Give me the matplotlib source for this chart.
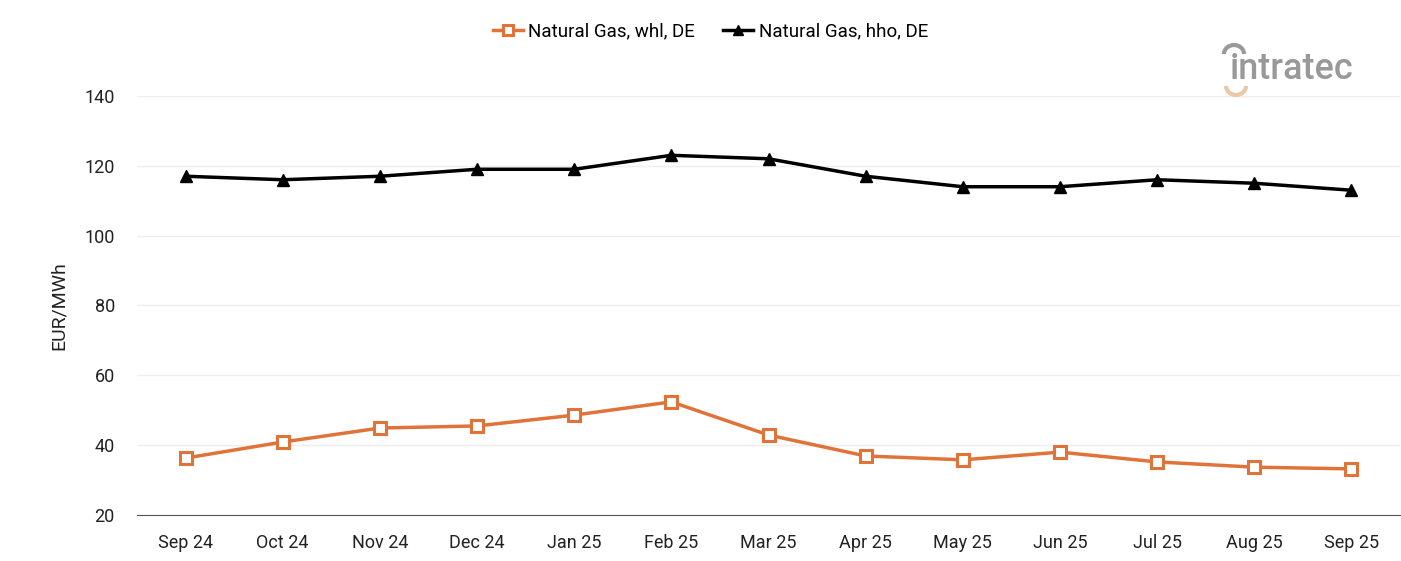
import matplotlib.pyplot as plt
from matplotlib.patches import Arc

plt.rcParams['font.family'] = ['Roboto', 'DejaVu Sans']

meses = ['Sep 24', 'Oct 24', 'Nov 24', 'Dec 24', 'Jan 25', 'Feb 25', 'Mar 25',
         'Apr 25', 'May 25', 'Jun 25', 'Jul 25', 'Aug 25', 'Sep 25']
gas_whl = [36.3, 40.9, 44.9, 45.5, 48.6, 52.4, 42.9, 36.9, 35.8, 38.0, 35.2, 33.7, 33.2]
gas_hho = [117, 116, 117, 119, 119, 123, 122, 117, 114, 114, 116, 115, 113]
y_ticks = [20, 40, 60, 80, 100, 120, 140]

fig = plt.figure(figsize=(14.01, 5.61), dpi=100)
ax = fig.add_axes([0.0978, 0.082, 0.9015, 0.747])

x = list(range(len(meses)))
ax.plot(x, gas_whl, color='#E07339', lw=2.5, marker='s', ms=8,
        markerfacecolor='white', markeredgecolor='#E07339', markeredgewidth=2.2,
        label='Natural Gas, whl, DE')
ax.plot(x, gas_hho, color='black', lw=2.5, marker='^', ms=9,
        label='Natural Gas, hho, DE')

ax.set_xlim(-0.5, len(meses) - 0.5)
ax.set_ylim(20, 140)
ax.set_yticks(y_ticks)
ax.set_xticks(x)
ax.set_xticklabels(meses)
ax.tick_params(axis='both', length=0, labelsize=13, colors='#222222')
ax.tick_params(axis='x', pad=14)
ax.tick_params(axis='y', pad=16)
ax.grid(axis='y', color='#EFEFEF', lw=1)
ax.set_axisbelow(True)
for s in ['top', 'right', 'left']:
    ax.spines[s].set_visible(False)
ax.spines['bottom'].set_color('#555555')
ax.set_ylabel('EUR/MWh', fontsize=14, color='#222222', labelpad=12)

fig.legend(loc='upper center', bbox_to_anchor=(0.507, 0.99), ncol=2, frameon=False,
           fontsize=13.5, handlelength=1.6, columnspacing=1.5, handletextpad=0.3,
           markerscale=0.85)

# logo intratec
fig.text(0.8775, 0.877, 'intratec', fontsize=26, color='#999999',
         ha='left', va='center', fontweight='medium')
fig.add_artist(Arc((1234 / 1401, 1 - 54 / 561), 20 / 1401, 18 / 561, theta1=0, theta2=180,
                   transform=fig.transFigure, color='#999999', lw=3))
fig.add_artist(Arc((1236 / 1401, 1 - 86 / 561), 20 / 1401, 18 / 561, theta1=180, theta2=360,
                   transform=fig.transFigure, color='#E8C9A8', lw=3))

fig.savefig('out.png', dpi=100)
